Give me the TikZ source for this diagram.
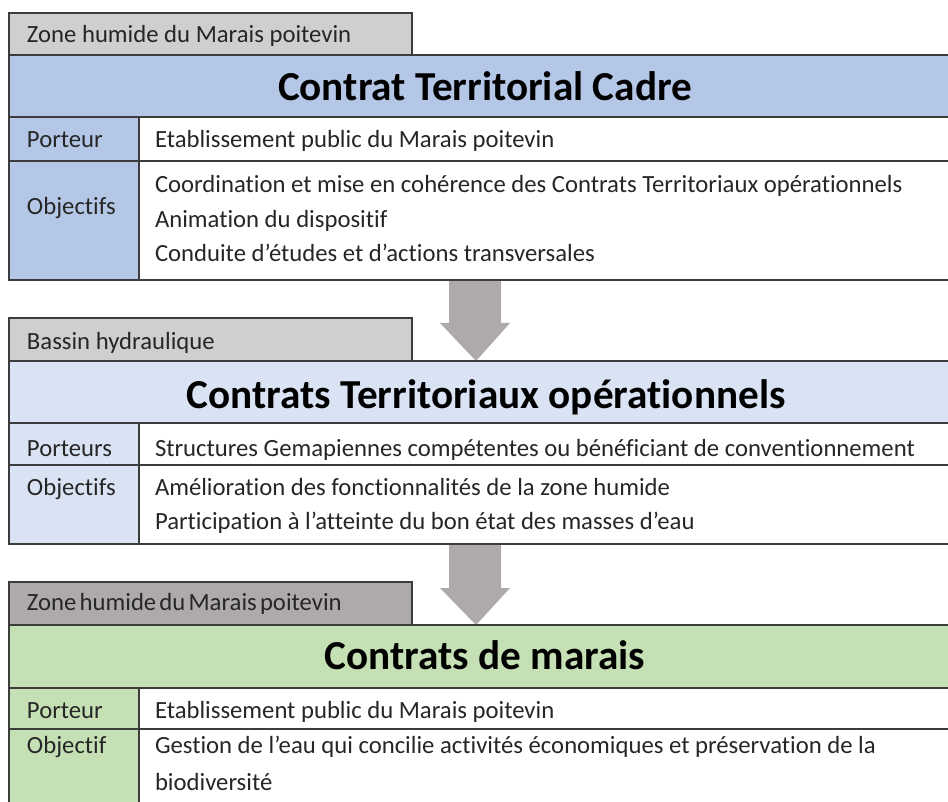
\documentclass[tikz,border=0pt]{standalone}
\usepackage{fontspec}
\setmainfont{Carlito}[Ligatures={NoCommon}]
\usetikzlibrary{calc}
\definecolor{tabc}{HTML}{D0CECE}
\definecolor{tabd}{HTML}{AEAAAA}
\definecolor{arrowc}{HTML}{AEAAAA}
\definecolor{blueA}{HTML}{B4C7E7}
\definecolor{blueB}{HTML}{DAE3F3}
\definecolor{greenA}{HTML}{C5E0B4}
\definecolor{linec}{HTML}{3C3C3C}
\newcommand{\bodyfnt}{\fontsize{24.7pt}{35pt}\selectfont}
\newcommand{\titlefnt}{\fontsize{41.2pt}{49pt}\selectfont\bfseries}
\newcommand{\tsp}{\hspace{3.2pt}}
\pgfdeclarelayer{bg}
\pgfsetlayers{bg,main}
\tikzset{
  cell/.style={draw=linec, line width=1.5pt, rectangle, inner sep=0pt, outer sep=0pt, anchor=north west},
  txt/.style={anchor=base west, inner sep=0pt, outer sep=0pt, font=\bodyfnt, text=black!85},
  ttl/.style={anchor=base, inner sep=0pt, outer sep=0pt, font=\titlefnt, text=black},
  bigarrow/.style={fill=arrowc, draw=none}
}
\begin{document}
\begin{tikzpicture}[x=1pt,y=-1pt]
\clip (0,0) rectangle (948,802);
% ---------- block 1
\node[cell, fill=tabc, minimum width=403pt, minimum height=42pt] (tab1) at (9,13) {};
\node[cell, fill=blueA, minimum width=961pt, minimum height=62pt] (head1) at (9,55) {};
\node[cell, fill=blueA, minimum width=130pt, minimum height=44pt] (lab1a) at (9,117) {};
\node[cell, fill=white, minimum width=831pt, minimum height=44pt] (val1a) at (139,117) {};
\node[cell, fill=blueA, minimum width=130pt, minimum height=119pt] (lab1b) at (9,161) {};
\node[cell, fill=white, minimum width=831pt, minimum height=119pt] (val1b) at (139,161) {};
\node[txt] (tt1) at (27,43) {Zone humide du Marais poitevin};
\node[ttl] (ti1) at (485,101) {Contrat Territorial Cadre};
\node[txt] (p1) at (27,148) {Porteur};
\node[txt] (pv1) at (155,148) {Etablissement public du Marais poitevin};
\node[txt] (o1) at (27,215) {Objectifs};
\node[txt] (ov1a) at (155,193) {Coordination et mise en cohérence des Contrats Territoriaux opérationnels};
\node[txt] (ov1b) at (155,228) {Animation du dispositif};
\node[txt] (ov1c) at (155,262) {Conduite d’études et d’actions transversales};
% ---------- block 2
\node[cell, fill=tabc, minimum width=403pt, minimum height=43pt] (tab2) at (9,318) {};
\node[cell, fill=blueB, minimum width=961pt, minimum height=62pt] (head2) at (9,361) {};
\node[cell, fill=blueB, minimum width=130pt, minimum height=42pt] (lab2a) at (9,423) {};
\node[cell, fill=white, minimum width=831pt, minimum height=42pt] (val2a) at (139,423) {};
\node[cell, fill=blueB, minimum width=130pt, minimum height=79pt] (lab2b) at (9,465) {};
\node[cell, fill=white, minimum width=831pt, minimum height=79pt] (val2b) at (139,465) {};
\node[txt] (tt2) at (27,349) {Bassin hydraulique};
\node[ttl] (ti2) at (486,408) {Contrats Territoriaux opérationnels};
\node[txt] (p2) at (27,456) {Porteurs};
\node[txt] (pv2) at (155,456) {Structures Gemapiennes compétentes ou bénéficiant de conventionnement};
\node[txt] (o2) at (27,495) {Objectifs};
\node[txt] (ov2a) at (155,495) {Amélioration des fonctionnalités de la zone humide};
\node[txt] (ov2b) at (155,529) {Participation à l’atteinte du bon état des masses d’eau};
% ---------- block 3
\node[cell, fill=tabd, minimum width=403pt, minimum height=43pt] (tab3) at (9,582) {};
\node[cell, fill=greenA, minimum width=961pt, minimum height=63pt] (head3) at (9,625) {};
\node[cell, fill=greenA, minimum width=130pt, minimum height=41pt] (lab3a) at (9,688) {};
\node[cell, fill=white, minimum width=831pt, minimum height=41pt] (val3a) at (139,688) {};
\node[cell, fill=greenA, minimum width=130pt, minimum height=100pt] (lab3b) at (9,729) {};
\node[cell, fill=white, minimum width=831pt, minimum height=100pt] (val3b) at (139,729) {};
\node[txt] (tt3) at (27,610) {Zone\tsp humide\tsp du\tsp Marais\tsp poitevin};
\node[ttl] (ti3) at (485,669) {Contrats de marais};
\node[txt] (p3) at (27,718) {Porteur};
\node[txt] (pv3) at (155,718) {Etablissement public du Marais poitevin};
\node[txt] (o3) at (27,753) {Objectif};
\node[txt] (ov3a) at (155,753) {Gestion de l’eau qui concilie activités économiques et préservation de la};
\node[txt] (ov3b) at (155,790) {biodiversité};
% ---------- background and arrows
\begin{pgfonlayer}{bg}
\fill[white] (0,0) rectangle (948,802);
\fill[bigarrow] (449,0 |- val1b.south) -- (501,0 |- val1b.south) -- (501,323) -- (510,323)
  -- (476,0 |- head2.north) -- (440,323) -- (449,323) -- cycle;
\fill[bigarrow] (449,0 |- val2b.south) -- (501,0 |- val2b.south) -- (501,588) -- (510,588)
  -- (476,0 |- head3.north) -- (440,588) -- (449,588) -- cycle;
\end{pgfonlayer}
\end{tikzpicture}
\end{document}
